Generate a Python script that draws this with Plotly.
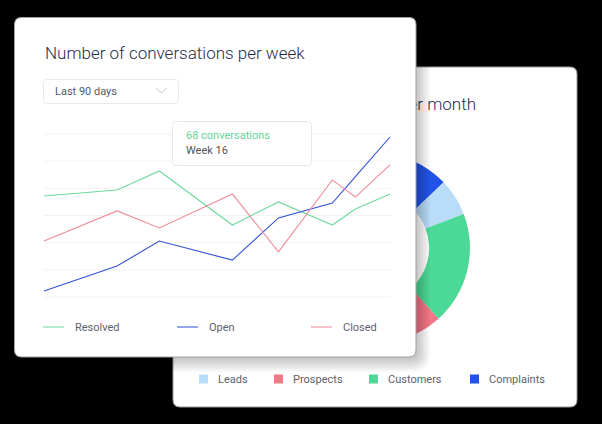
import plotly.graph_objects as go

# ---------------- data ----------------
DAYS = [0, 19, 30, 49, 61, 75, 81, 90]
RESOLVED = [37.2, 39.4, 46.4, 26.5, 35.0, 26.5, 32.4, 37.9]
OPEN = [2.2, 11.4, 20.6, 13.6, 29.1, 34.6, 44.3, 58.9]
CLOSED = [20.6, 31.7, 25.4, 37.9, 16.6, 43.1, 36.8, 48.6]
GRID_TICKS = [0, 10, 20, 30, 40, 50, 60]
LINE_NAMES = ["Resolved", "Open", "Closed"]
LINE_COLORS = ["#6fd9a0", "#3451d6", "#f08b99"]

SEGMENTS = ["Leads", "Prospects", "Customers", "Complaints"]
SHARES = [6.3, 49.5, 19.2, 25.0]
SEG_COLORS = ["#b9dcf8", "#f47687", "#4cd997", "#2253e8"]
PIE_ORDER = [3, 0, 2, 1]  # clockwise drawing order

TITLE_FRONT = "Number of conversations per week"
TITLE_BACK = "Conversation types per month"
RANGE_LABEL = "Last 90 days"
TIP_VALUE = "68 conversations"
TIP_WEEK = "Week 16"

# ---------------- layout helpers ----------------
W, H = 602, 424
FONT = "Roboto"
TITLE_COLOR = "#262d4a"
TEXT_COLOR = "#5d616d"


def fx(x):
    return x / W


def fy(y):
    return 1 - y / H


def rrect(x0, y0, x1, y1, r):
    pts = [
        ("M", [(x0 + r, y0)]), ("L", [(x1 - r, y0)]), ("Q", [(x1, y0), (x1, y0 + r)]),
        ("L", [(x1, y1 - r)]), ("Q", [(x1, y1), (x1 - r, y1)]),
        ("L", [(x0 + r, y1)]), ("Q", [(x0, y1), (x0, y1 - r)]),
        ("L", [(x0, y0 + r)]), ("Q", [(x0, y0), (x0 + r, y0)]),
    ]
    s = ""
    for cmd, ps in pts:
        s += cmd + " " + " ".join(f"{fx(a):.5f},{fy(b):.5f}" for a, b in ps) + " "
    return s + "Z"


shapes = []
annotations = []

# back card (below the donut)
shapes.append(dict(type="path", xref="paper", yref="paper", layer="below",
                   path=rrect(173, 67, 577, 407, 7), fillcolor="white",
                   line=dict(color="#9a9a9a", width=1)))
# back card title as a shape label so it stays under the front card
shapes.append(dict(type="rect", xref="paper", yref="paper", layer="below",
                   x0=fx(180), x1=fx(479), y0=fy(114), y1=fy(92),
                   fillcolor="rgba(0,0,0,0)", line=dict(width=0),
                   label=dict(text=TITLE_BACK, textposition="middle right", padding=0,
                              font=dict(family=FONT, size=17, color=TITLE_COLOR, weight=300))))

# front card shadow
for k in range(10, 0, -1):
    shapes.append(dict(type="path", xref="paper", yref="paper", layer="above",
                       path=rrect(14.5 - k * 0.6, 17.5 - k * 0.3, 416 + k * 1.4, 357 + k * 1.5, 7 + k),
                       fillcolor="rgba(0,0,0,0.022)", line=dict(width=0)))
# front card
shapes.append(dict(type="path", xref="paper", yref="paper", layer="above",
                   path=rrect(14.5, 17.5, 416, 357, 7), fillcolor="white",
                   line=dict(color="#a0a0a0", width=1)))
# dropdown
shapes.append(dict(type="path", xref="paper", yref="paper", layer="above",
                   path=rrect(43.5, 79.5, 178.5, 103.5, 3), fillcolor="white",
                   line=dict(color="#e8e9ec", width=1)))
shapes.append(dict(type="path", xref="paper", yref="paper", layer="above",
                   path=f"M {fx(156):.5f},{fy(88):.5f} L {fx(161.5):.5f},{fy(93):.5f} L {fx(167):.5f},{fy(88):.5f}",
                   line=dict(color="#c5c8cf", width=1)))

# gridlines (data coordinates)
for t in GRID_TICKS:
    shapes.append(dict(type="line", xref="x", yref="y", layer="above",
                       x0=DAYS[0], x1=DAYS[-1] + 0.5, y0=t, y1=t,
                       line=dict(color="#f1f2f4", width=1)))

# tooltip box
shapes.append(dict(type="path", xref="paper", yref="paper", layer="above",
                   path=rrect(172.5, 121.5, 311.5, 165.5, 4), fillcolor="white",
                   line=dict(color="#e6e7ea", width=1)))

# series lines through the axes
for name, ys, col in zip(LINE_NAMES, [RESOLVED, OPEN, CLOSED], LINE_COLORS):
    path = "M " + " L ".join(f"{x},{y}" for x, y in zip(DAYS, ys))
    shapes.append(dict(type="path", xref="x", yref="y", layer="above", path=path,
                       line=dict(color=col, width=1.1), fillcolor="rgba(0,0,0,0)"))

# front legend
LEG1_X = [43, 177, 311]
for name, col, lx in zip(LINE_NAMES, LINE_COLORS, LEG1_X):
    shapes.append(dict(type="line", xref="paper", yref="paper", layer="above",
                       x0=fx(lx), x1=fx(lx + 21), y0=fy(327), y1=fy(327),
                       line=dict(color=col, width=1.2), opacity=0.85))
    annotations.append(dict(text=name, x=fx(lx + 30), y=fy(327.5), xref="paper", yref="paper",
                            xanchor="left", yanchor="middle", showarrow=False,
                            font=dict(family=FONT, size=11, color=TEXT_COLOR)))

# back legend
LEG2_X = [199, 274, 369, 470]
for name, col, lx in zip(SEGMENTS, SEG_COLORS, LEG2_X):
    shapes.append(dict(type="rect", xref="paper", yref="paper", layer="above",
                       x0=fx(lx), x1=fx(lx + 9), y0=fy(383.5), y1=fy(374.5),
                       fillcolor=col, line=dict(width=0)))
    annotations.append(dict(text=name, x=fx(lx + 17), y=fy(379), xref="paper", yref="paper",
                            xanchor="left", yanchor="middle", showarrow=False,
                            font=dict(family=FONT, size=11, color=TEXT_COLOR)))

# texts
annotations.append(dict(text=TITLE_FRONT, x=fx(43), y=fy(53), xref="paper", yref="paper",
                        xanchor="left", yanchor="middle", showarrow=False,
                        font=dict(family=FONT, size=17, color=TITLE_COLOR, weight=300)))
annotations.append(dict(text=RANGE_LABEL, x=fx(53), y=fy(91.5), xref="paper", yref="paper",
                        xanchor="left", yanchor="middle", showarrow=False,
                        font=dict(family=FONT, size=11, color="#565a66")))
annotations.append(dict(text=TIP_VALUE, x=fx(184), y=fy(135.5), xref="paper", yref="paper",
                        xanchor="left", yanchor="middle", showarrow=False,
                        font=dict(family=FONT, size=11, color="#62d69b")))
annotations.append(dict(text=TIP_WEEK, x=fx(184), y=fy(150), xref="paper", yref="paper",
                        xanchor="left", yanchor="middle", showarrow=False,
                        font=dict(family=FONT, size=11, color="#50545f")))

# ---------------- traces ----------------
CX, CY, R = 375, 248, 95
pie = go.Pie(
    labels=[SEGMENTS[i] for i in PIE_ORDER],
    values=[SHARES[i] for i in PIE_ORDER],
    marker=dict(colors=[SEG_COLORS[i] for i in PIE_ORDER], line=dict(width=0)),
    hole=0.57, sort=False, direction="clockwise", rotation=-43.7,
    textinfo="none", hoverinfo="skip", showlegend=False,
    domain=dict(x=[fx(CX - R), fx(CX + R)], y=[fy(CY + R), fy(CY - R)]),
)
anchor = go.Scatter(x=[], y=[], mode="lines", showlegend=False, hoverinfo="skip")

fig = go.Figure([anchor, pie])

X_PER = 346 / 90
Y_PER = 163 / 60
fig.update_layout(
    width=W, height=H, margin=dict(l=0, r=0, t=0, b=0),
    paper_bgcolor="black", plot_bgcolor="rgba(0,0,0,0)",
    showlegend=False, shapes=shapes, annotations=annotations,
    xaxis=dict(domain=[fx(40), fx(396)], range=[-4 / X_PER, 90 + 6 / X_PER],
               visible=False, fixedrange=True),
    yaxis=dict(domain=[fy(301), fy(130)], range=[-4 / Y_PER, 60 + 4 / Y_PER],
               visible=False, fixedrange=True),
    font=dict(family=FONT),
)

fig.write_html("out.html")
